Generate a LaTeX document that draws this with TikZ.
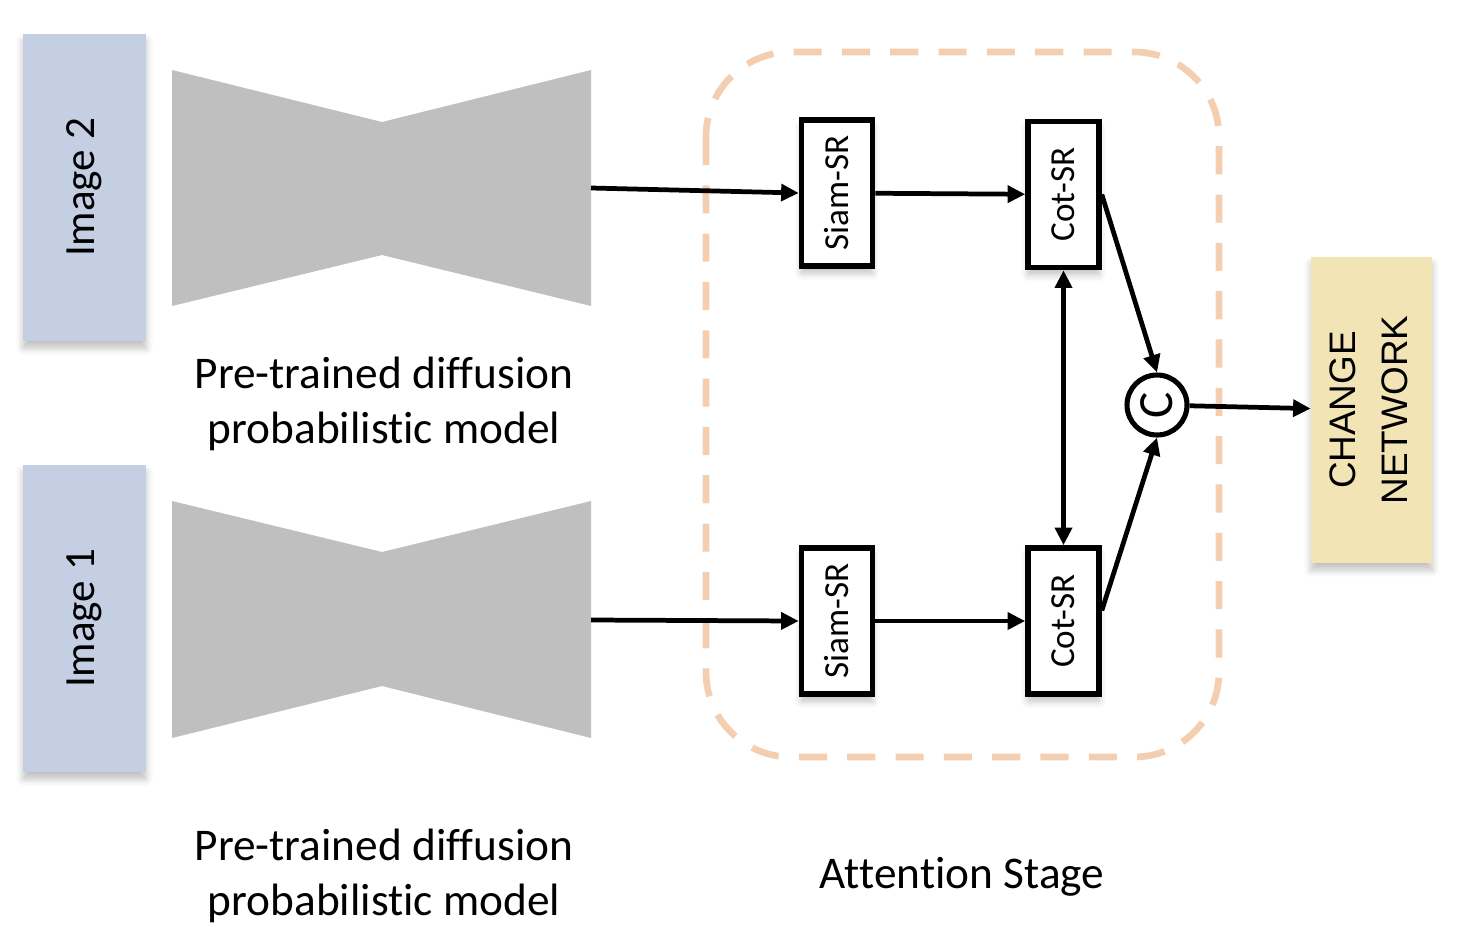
\documentclass[tikz,border=0pt]{standalone}
\usepackage{fontspec}
\setmainfont{Carlito}[Ligatures=NoCommon]
\newfontfamily\arialf{Liberation Sans}
\usepackage{tikz}
\usetikzlibrary{arrows.meta,shadows.blur}
\definecolor{imgblue}{HTML}{C5CFE3}
\definecolor{chgyellow}{HTML}{F2E4B4}
\definecolor{bowgray}{HTML}{BFBFBF}
\definecolor{stagepeach}{HTML}{F3CEB0}

\begin{document}
\begin{tikzpicture}[x=0.02cm, y=-0.02cm,
    softshadow/.style={blur shadow={shadow blur steps=6, shadow xshift=0pt, shadow yshift=-4pt,
        shadow blur radius=4pt, shadow opacity=25}},
    inbox/.style={fill=imgblue, inner sep=0pt, minimum width=2.46cm, minimum height=6.14cm,
        font=\fontsize{24.5}{29}\selectfont, softshadow},
    srbox/.style={draw, line width=3.2pt, fill=white, inner sep=0pt, minimum width=1.42cm, minimum height=2.92cm,
        font=\fontsize{20}{24}\selectfont, softshadow},
    flow/.style={line width=2.7pt, -{Triangle[length=10pt, width=9.5pt]}},
    caption/.style={align=center, font=\fontsize{25.8}{31.7}\selectfont}]
    \useasboundingbox (0,0) rectangle (1462,940);
    % inputs
    \node[inbox] (img2) at (84.5,187.5) {\rotatebox{90}{Image 2}};
    \node[inbox] (img1) at (84.5,618.5) {\rotatebox{90}{Image 1}};
    % diffusion models
    \fill[bowgray] (172,70) -- (382,122) -- (591,70) -- (591,306) -- (382,255) -- (172,306) -- cycle;
    \fill[bowgray] (172,501) -- (382,552) -- (591,501) -- (591,738) -- (382,686) -- (172,738) -- cycle;
    \coordinate (dpm2) at (591,188);
    \coordinate (dpm1) at (591,620);
    \node[caption] (cap2) at (384,404) {Pre-trained diffusion\\probabilistic model};
    \node[caption] (cap1) at (384,876) {Pre-trained diffusion\\probabilistic model};
    % attention stage
    \draw[stagepeach, line width=3.8pt, dash pattern=on 16pt off 11.5pt, rounded corners=1.7cm]
        (706,52) rectangle (1219,757);
    \node[caption] (att) at (962,877) {Attention Stage};
    \node[srbox] (siam2) at (837,193) {\rotatebox{90}{Siam-SR}};
    \node[srbox] (cot2) at (1063.5,194.5) {\rotatebox{90}{Cot-SR}};
    \node[srbox] (siam1) at (837,621) {\rotatebox{90}{Siam-SR}};
    \node[srbox] (cot1) at (1063.5,621) {\rotatebox{90}{Cot-SR}};
    \node[draw, circle, line width=2.9pt, fill=white, inner sep=0pt, minimum size=1.2cm,
        font=\fontsize{28}{30}\selectfont] (cat) at (1157,405) {\rotatebox{90}{C}};
    % output
    \node[fill=chgyellow, inner sep=0pt, minimum width=2.42cm, minimum height=6.12cm, align=center,
        font=\arialf\fontsize{21}{29.5}\selectfont, softshadow] (chg) at (1371.5,410)
        {\rotatebox{90}{\begin{tabular}{@{}c@{}}CHANGE\\NETWORK\end{tabular}}};
    % connections
    \draw[flow] (dpm2) -- (siam2.west);
    \draw[flow] (dpm1) -- (siam1.west);
    \draw[flow] (siam2) -- (cot2);
    \draw[flow] (siam1) -- (cot1);
    \draw[flow] (cot2.east) -- (cat.north);
    \draw[flow] ([yshift=6pt]cot1.east) -- (cat.south);
    \draw[line width=2.7pt, {Triangle[length=10pt, width=9.5pt]}-{Triangle[length=10pt, width=9.5pt]}] (cot2.south) -- (cot1.north);
    \draw[flow] (cat) -- (chg);
\end{tikzpicture}
\end{document}
